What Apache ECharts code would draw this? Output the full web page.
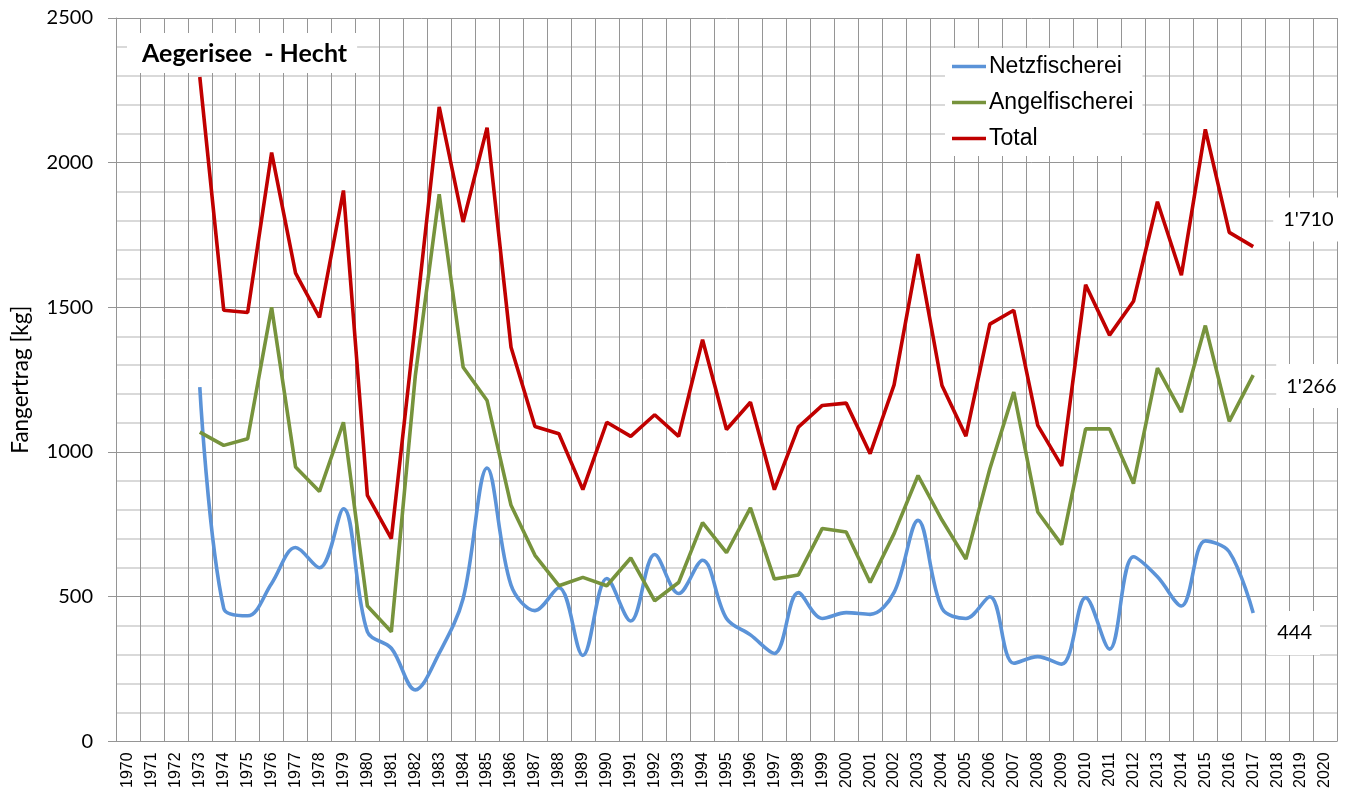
<!DOCTYPE html>
<html>
<head>
<meta charset="utf-8">
<script src="https://cdn.jsdelivr.net/npm/echarts@6/dist/echarts.min.js"></script>
<style>
html,body{margin:0;padding:0;background:#fff;}
#chart{width:1352px;height:791px;}
</style>
</head>
<body>
<div id="chart"></div>
<script>
const years = ['1970','1971','1972','1973','1974','1975','1976','1977','1978','1979','1980','1981','1982','1983','1984','1985','1986','1987','1988','1989','1990','1991','1992','1993','1994','1995','1996','1997','1998','1999','2000','2001','2002','2003','2004','2005','2006','2007','2008','2009','2010','2011','2012','2013','2014','2015','2016','2017','2018','2019','2020'];

const netzfischerei = [null,null,null,1224,460,434,546,670,600,804,379,322,178,305,494,945,540,452,531,297,563,416,646,511,626,425,368,304,514,425,445,439,515,764,460,425,500,270,293,267,497,319,638,569,468,693,655,444,null,null,null];

const angelfischerei = [null,null,null,1069,1023,1046,1500,948,864,1103,468,379,1262,1891,1293,1178,816,643,538,567,538,634,486,549,756,652,807,561,575,736,724,549,718,919,765,630,942,1207,793,680,1080,1080,891,1290,1138,1437,1106,1266,null,null,null];

const total = [null,null,null,2296,1490,1482,2035,1618,1465,1904,850,701,1442,2193,1795,2121,1362,1088,1063,870,1103,1054,1129,1054,1388,1078,1172,870,1086,1161,1169,994,1232,1684,1230,1055,1442,1490,1092,952,1578,1404,1521,1865,1611,2115,1759,1710,null,null,null];

const yTicks = [0, 500, 1000, 1500, 2000, 2500];

function fmt(v){
  return String(Math.round(v)).replace(/\B(?=(\d{3})+(?!\d))/g, "'");
}

const chart = echarts.init(document.getElementById('chart'), null, {renderer:'canvas'});
const gridColor = '#959595';
const minorColor = '#cdcdcd';

function endLabel(offset){
  return {
    show: true,
    formatter: p => fmt(p.value),
    offset: offset,
    color: '#000',
    fontFamily: 'Lato',
    fontSize: 20,
    backgroundColor: '#fff',
    padding: [12, 8, 12, 10],
    distance: 0
  };
}

chart.setOption({
  animation: false,
  backgroundColor: '#fff',
  title: {
    text: 'Aegerisee  - Hecht',
    left: 127,
    top: 33,
    backgroundColor: '#fff',
    padding: [8, 10, 7, 15],
    textStyle: {fontFamily: 'Lato', fontWeight: 'bold', fontSize: 25, color: '#000'}
  },
  legend: {
    orient: 'vertical',
    left: 945,
    top: 48,
    backgroundColor: '#fff',
    padding: [7, 9, 6, 7],
    itemGap: 13,
    itemWidth: 34,
    itemHeight: 3.5,
    icon: 'rect',
    textStyle: {fontFamily: 'Liberation Sans', fontSize: 23, color: '#000', padding: [0, 0, 0, -2]},
    data: ['Netzfischerei', 'Angelfischerei', 'Total']
  },
  grid: {left: 116, right: 15, top: 18, bottom: 48, containLabel: false},
  xAxis: {
    type: 'category',
    data: years,
    boundaryGap: true,
    axisLine: {show: true, lineStyle: {color: gridColor, width: 1}},
    axisTick: {show: false},
    axisLabel: {interval: 0, rotate: 90, margin: 11, fontFamily: '"Liberation Sans Narrow", "Liberation Sans"', fontSize: 16, color: '#000'},
    splitLine: {show: true, interval: 0, lineStyle: {color: gridColor, width: 1}}
  },
  yAxis: {
    type: 'value',
    min: yTicks[0],
    max: yTicks[yTicks.length - 1],
    interval: 500,
    name: 'Fangertrag [kg]',
    nameLocation: 'middle',
    nameGap: 84,
    nameTextStyle: {fontFamily: 'Lato', fontSize: 22.5, color: '#000'},
    axisLine: {show: true, lineStyle: {color: gridColor, width: 1}},
    axisTick: {show: true, inside: false, length: 8, lineStyle: {color: gridColor}},
    axisLabel: {margin: 23, fontFamily: 'Lato', fontSize: 20, color: '#000', formatter: v => String(v)},
    splitLine: {show: true, lineStyle: {color: gridColor, width: 1}},
    minorTick: {show: false, splitNumber: 5},
    minorSplitLine: {show: true, lineStyle: {color: minorColor, width: 1.5}}
  },
  series: [
    {
      name: 'Netzfischerei',
      type: 'line',
      data: netzfischerei,
      smooth: 0.35,
      symbol: 'none',
      showSymbol: false,
      lineStyle: {color: '#5b93d8', width: 3.6},
      itemStyle: {color: '#5b93d8'},
      endLabel: endLabel([14, 20]),
      z: 3
    },
    {
      name: 'Angelfischerei',
      type: 'line',
      data: angelfischerei,
      symbol: 'none',
      showSymbol: false,
      lineStyle: {color: '#77933c', width: 3.6},
      itemStyle: {color: '#77933c'},
      endLabel: endLabel([23, 11]),
      z: 4
    },
    {
      name: 'Total',
      type: 'line',
      data: total,
      symbol: 'none',
      showSymbol: false,
      lineStyle: {color: '#c00000', width: 3.6},
      itemStyle: {color: '#c00000'},
      endLabel: endLabel([20, -27]),
      z: 5
    }
  ]
});
</script>
</body>
</html>
